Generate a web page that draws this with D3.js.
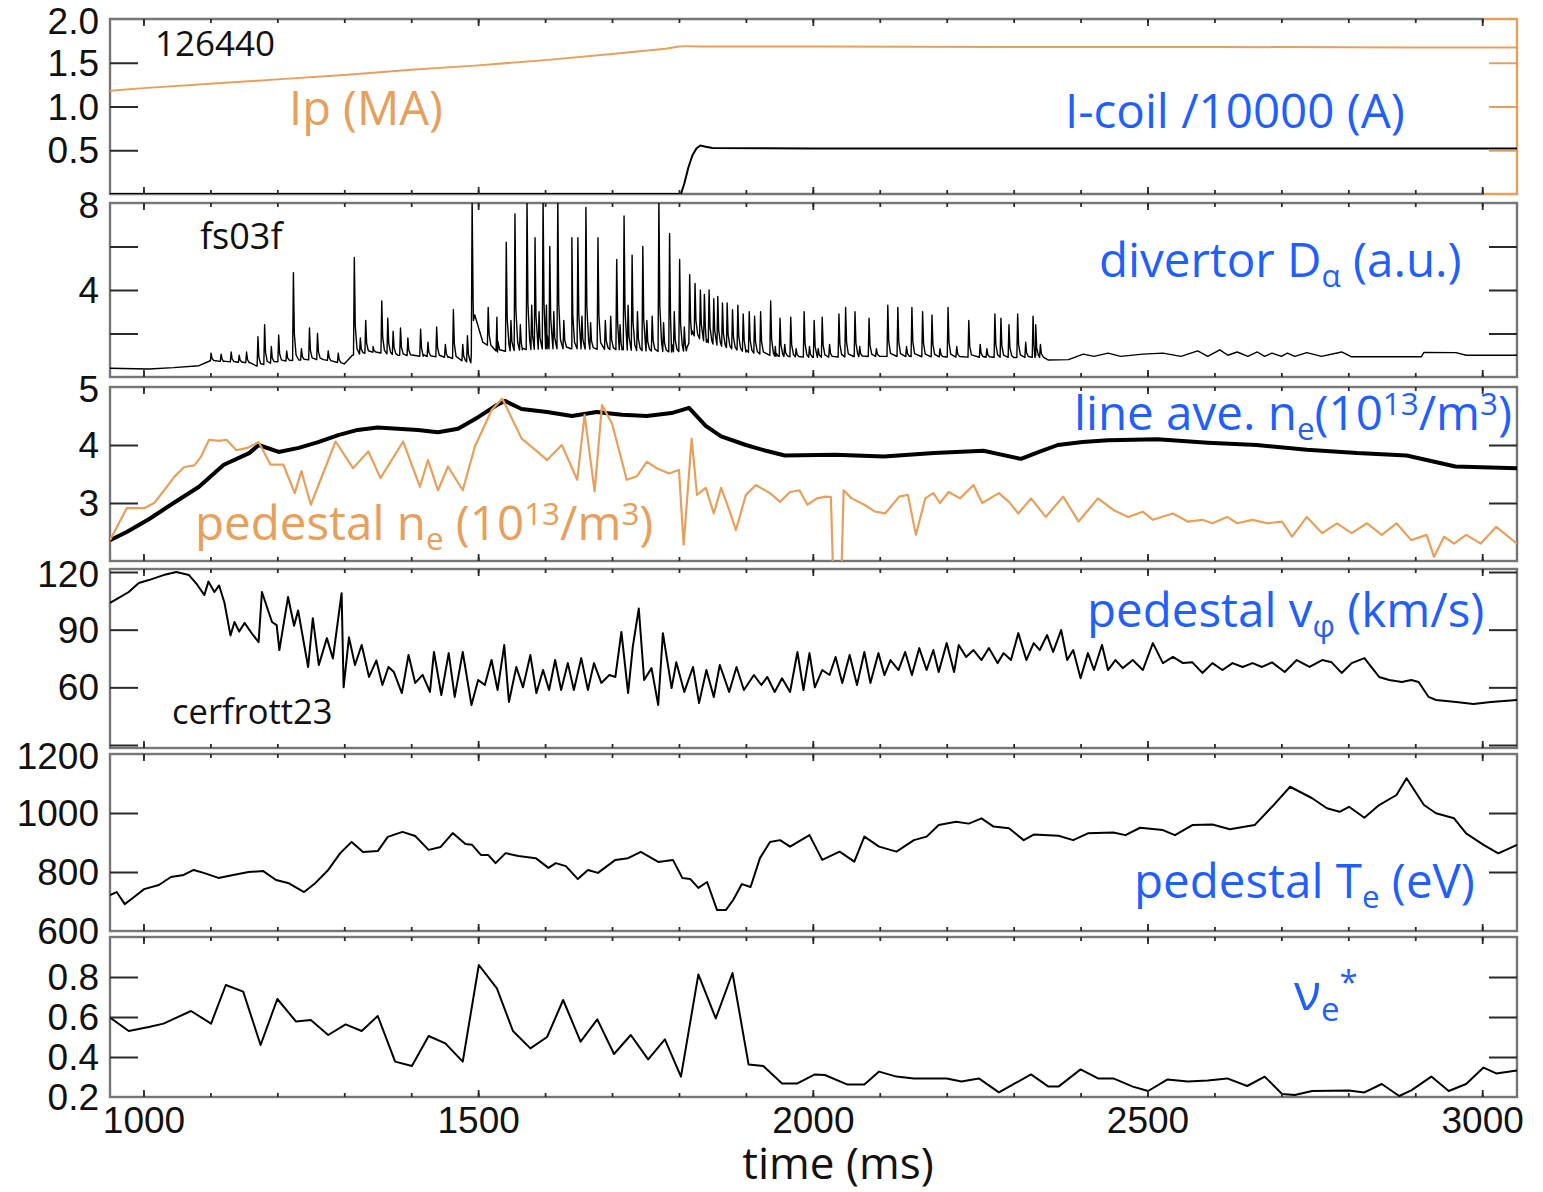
<!DOCTYPE html>
<html>
<head>
<meta charset="utf-8">
<script src="https://cdn.jsdelivr.net/npm/d3@7"></script>
<style>
  html, body { margin: 0; padding: 0; background: #fff; }
  svg { display: block; }
</style>
</head>
<body>
<svg id="chart" width="1543" height="1192"></svg>
<script>
// ---- time axis ----
const timeTickLabels = [1000, 1500, 2000, 2500, 3000];
const timeMinorTicks = d3.range(1000, 3001, 100);

// ---- panel tick marks / labels ----
const ipTicks = [0.5, 1.0, 1.5],        ipLabels = [0.5, 1.0, 1.5, 2.0];
const daTicks = [2, 4, 6],              daLabels = [4, 8];
const neTicks = [3, 4],                 neLabels = [3, 4, 5];
const vphiTicks = [30, 60, 90, 120],    vphiLabels = [60, 90, 120];
const teTicks = [800, 1000],            teLabels = [600, 800, 1000, 1200];
const nuTicks = [0.4, 0.6, 0.8],        nuLabels = [0.2, 0.4, 0.6, 0.8];

// ---- plasma current (MA) and I-coil/10000 (A) ----
const ipData = [[950,1.18],[1000,1.21],[1100,1.26],[1200,1.31],[1300,1.36],[1400,1.42],[1500,1.47],
  [1600,1.53],[1700,1.60],[1780,1.66],[1800,1.685],[1815,1.69],[1830,1.685],[2000,1.685],[2300,1.68],
  [2600,1.68],[2900,1.675],[3052,1.675]];
const icoilData = [[950,0],[1803,0],[1808,0.12],[1814,0.3],[1820,0.44],[1826,0.52],[1832,0.555],
  [1840,0.54],[1850,0.525],[2000,0.52],[3052,0.52]];

// ---- divertor D-alpha: slow level and ELM peaks ----
const dalphaBase = [[950,0.4],[1008,0.37],[1045,0.43],[1083,0.52],[1100,0.75],[1120,0.71],[1158,0.65],
  [1169,0.5],[1200,0.7],[1232,0.78],[1269,0.8],[1300,0.6],[1312,1.0],[1343,1.15],[1380,1.0],[1418,0.95],
  [1455,0.9],[1489,0.65],[1493,2.6],[1507,1.6],[1529,1.15],[1566,1.25],[1603,1.3],[1640,1.3],[1715,1.25],
  [1789,1.15],[1811,1.2],[1819,1.95],[1841,1.6],[1871,1.35],[1900,1.15],[1945,0.95],[2000,0.9],[2100,0.95],
  [2200,0.92],[2300,0.9],[2345,0.9],[2352,0.78],[2382,0.8],[2404,1.05],[2420,0.95],[2441,1.1],[2460,0.95],
  [2493,1.05],[2523,1.1],[2550,0.95],[2575,1.2],[2590,0.95],[2608,1.25],[2620,1.0],[2634,1.15],[2650,0.95],
  [2664,1.15],[2675,0.95],[2686,1.1],[2700,0.95],[2709,1.1],[2720,0.95],[2738,1.12],[2760,0.95],[2790,1.15],
  [2805,0.93],[2909,0.93],[2913,1.13],[2961,1.12],[2976,1.0],[3052,1.0]];
const dalphaSpikes = [[1101,1.1],[1116,1.05],[1131,1.15],[1143,1.0],[1154,1.15],[1171,1.85],[1181,2.4],
  [1191,1.4],[1202,1.93],[1214,1.2],[1224,4.8],[1236,1.3],[1248,2.25],[1260,2.0],[1276,1.2],[1291,1.1],
  [1315,5.5],[1324,1.8],[1332,2.6],[1343,1.4],[1356,3.5],[1365,2.7],[1373,2.1],[1384,2.25],[1395,1.8],
  [1414,2.2],[1425,1.6],[1438,2.3],[1451,1.5],[1463,3.1],[1477,1.5],[1484,1.9],[1491,8.2],
  [1515,3.2],[1528,2.75],[1542,6.2],[1549,2.6],[1555,7.5],[1563,2.4],[1573,8.2],[1580,3.3],[1585,6.4],
  [1591,3.0],[1597,8.2],[1602,3.3],[1607,6.0],[1613,3.0],[1619,8.2],[1628,2.6],[1640,6.4],[1649,6.4],
  [1655,2.8],[1661,7.8],[1668,2.5],[1679,6.4],[1690,2.6],[1698,2.8],[1707,5.4],[1712,2.4],[1718,7.4],
  [1724,3.3],[1730,5.6],[1738,3.0],[1746,6.0],[1752,2.6],[1760,2.8],[1770,8.2],[1777,2.5],[1786,6.6],
  [1793,3.0],[1801,5.4],[1808,2.3],[1816,4.7],[1824,4.3],[1832,4.0],[1838,3.8],[1845,4.0],[1852,3.6],
  [1858,3.7],[1865,3.4],[1872,3.4],[1880,3.1],[1888,3.3],[1896,2.9],[1905,3.0],[1913,2.8],[1922,3.0],
  [1937,3.5],[1944,1.4],[1951,2.7],[1958,1.5],[1967,2.75],[1975,1.3],[1987,3.0],[1995,1.4],[2002,2.6],
  [2008,1.3],[2014,2.75],[2025,1.5],[2039,2.9],[2049,3.2],[2063,3.0],[2070,1.4],[2084,2.7],[2095,1.3],
  [2112,3.3],[2127,3.2],[2140,1.4],[2148,3.2],[2164,3.0],[2178,2.85],[2190,1.3],[2202,3.2],[2215,1.4],
  [2233,2.6],[2250,1.5],[2260,1.3],[2272,2.9],[2281,2.7],[2293,2.4],[2306,2.9],[2318,1.6],[2329,2.8],
  [2333,2.4],[2340,1.5]];

// ---- line-averaged and pedestal density (1e13/m^3) ----
const neLineAve = [[950,2.36],[975,2.5],[1008,2.72],[1045,3.0],[1083,3.28],[1120,3.66],[1158,3.86],
  [1172,4.0],[1202,3.88],[1232,3.95],[1261,4.05],[1291,4.17],[1320,4.26],[1350,4.3],[1380,4.28],
  [1410,4.26],[1440,4.22],[1470,4.28],[1500,4.48],[1528,4.69],[1540,4.76],[1565,4.62],[1603,4.57],
  [1640,4.5],[1677,4.57],[1715,4.52],[1752,4.5],[1789,4.55],[1815,4.64],[1840,4.33],[1863,4.15],
  [1900,4.0],[1930,3.9],[1958,3.82],[2033,3.83],[2106,3.8],[2181,3.86],[2255,3.9],[2311,3.76],
  [2338,3.88],[2366,4.0],[2403,4.05],[2441,4.08],[2515,4.1],[2590,4.04],[2663,4.0],[2738,3.92],
  [2813,3.86],[2887,3.82],[2960,3.63],[3052,3.6]];
const nePed = [[950,2.36],[975,2.91],[1001,2.91],[1016,3.0],[1031,3.22],[1046,3.45],[1061,3.62],
  [1076,3.65],[1086,3.8],[1098,4.09],[1113,4.07],[1124,4.09],[1139,3.91],[1155,3.95],[1172,4.05],
  [1190,3.66],[1209,3.66],[1226,3.17],[1236,3.55],[1250,2.97],[1287,4.06],[1313,3.6],[1336,3.89],
  [1354,3.43],[1388,4.06],[1413,3.28],[1425,3.74],[1440,3.22],[1455,3.63],[1477,3.22],[1495,3.97],
  [1520,4.6],[1536,4.8],[1565,4.11],[1588,3.89],[1603,3.74],[1625,4.0],[1648,3.4],[1659,4.52],
  [1674,3.2],[1685,4.69],[1700,4.37],[1722,3.4],[1737,3.46],[1752,3.71],[1767,3.6],[1785,3.51],
  [1800,3.57],[1807,2.28],[1819,4.11],[1827,3.14],[1840,3.26],[1852,2.82],[1863,3.26],[1876,2.85],
  [1885,2.53],[1900,3.14],[1915,3.31],[1936,3.17],[1951,3.02],[1966,3.19],[1980,3.22],[1992,2.97],
  [2006,3.08],[2019,3.11],[2027,3.1],[2030,1.9],[2043,1.9],[2046,3.22],[2058,3.08],[2077,2.97],
  [2093,2.85],[2108,2.82],[2129,3.11],[2142,3.14],[2154,2.45],[2168,3.08],[2180,3.17],[2190,3.0],
  [2203,3.19],[2220,3.08],[2240,3.31],[2253,3.0],[2278,3.17],[2293,3.02],[2307,2.82],[2326,3.08],
  [2348,2.76],[2374,3.11],[2397,2.68],[2426,3.08],[2449,2.88],[2471,2.76],[2493,2.85],[2508,2.71],
  [2538,2.82],[2560,2.68],[2582,2.71],[2597,2.65],[2619,2.76],[2634,2.65],[2657,2.71],[2679,2.65],
  [2701,2.68],[2716,2.42],[2738,2.76],[2761,2.48],[2783,2.65],[2805,2.48],[2828,2.65],[2850,2.45],
  [2872,2.65],[2894,2.36],[2917,2.45],[2928,2.07],[2943,2.42],[2958,2.3],[2976,2.45],[2998,2.3],
  [3021,2.59],[3052,2.3]];

// ---- pedestal toroidal rotation (km/s) ----
const vphiData = [[950,103.9],[963,106.5],[978,109.6],[993,114.3],[1008,115.8],[1030,118.4],[1049,120],
  [1068,118.4],[1079,114],[1091,108],[1097,115],[1106,109.6],[1113,113],[1121,104],[1130,87],[1136,94],
  [1143,89],[1151,93.5],[1162,88],[1172,83.5],[1177,109.6],[1192,94],[1199,92.4],[1203,79.4],[1216,107],
  [1225,92],[1231,100],[1246,70.6],[1253,96],[1262,71.6],[1274,85.6],[1283,75],[1296,109],[1299,60],
  [1307,86],[1316,71.6],[1326,82],[1337,65.4],[1348,74],[1357,61.2],[1366,70.6],[1374,68],[1386,57],
  [1396,76.8],[1406,62.3],[1417,66.5],[1428,57.6],[1434,78.4],[1445,56],[1456,77.8],[1465,55],[1477,78.4],
  [1490,50.8],[1500,63.8],[1510,61.2],[1520,74.2],[1529,58.6],[1539,82],[1546,52.4],[1557,70.6],[1567,60],
  [1578,76.8],[1587,57],[1597,69],[1606,58.6],[1615,74.2],[1624,58.6],[1634,72.6],[1643,58.6],[1654,75.2],
  [1664,58.6],[1673,72.6],[1684,62.3],[1696,66.4],[1705,65.4],[1714,88.8],[1724,57],[1731,81],[1740,101],
  [1748,63.8],[1759,70],[1769,50.8],[1776,88.2],[1789,59.6],[1796,73],[1808,57.6],[1821,70.6],[1830,51.8],
  [1841,69],[1852,55],[1861,71.6],[1875,57.6],[1886,70.6],[1897,58.6],[1912,66.4],[1923,61.2],[1932,65.4],
  [1943,57.6],[1954,64.7],[1966,57.6],[1977,78.4],[1986,58.6],[1995,77.8],[2003,60],[2014,69],[2025,66.4],
  [2034,75.8],[2044,62.3],[2055,76.8],[2066,61.2],[2077,78.4],[2086,62.3],[2098,77.8],[2107,66.4],
  [2116,74.2],[2128,69],[2138,78.4],[2148,66.4],[2159,80.4],[2170,69],[2180,79.4],[2188,68],[2200,83],
  [2211,68],[2218,82],[2229,75.8],[2240,79.4],[2252,74.2],[2263,80.4],[2276,72.6],[2285,77.8],[2296,74.2],
  [2307,88.2],[2319,74.2],[2330,83],[2339,79.4],[2350,87.2],[2359,78.4],[2371,89.8],[2380,74.2],
  [2389,79.4],[2400,64.7],[2411,77.8],[2420,69],[2432,82],[2441,69],[2452,74.2],[2463,70],[2478,74.2],
  [2493,69],[2508,83],[2523,72.6],[2538,75.8],[2553,72.6],[2567,73],[2582,67.5],[2597,72.6],[2612,69],
  [2627,72.6],[2642,70.6],[2657,72.6],[2671,70.6],[2686,73],[2705,68],[2723,74.2],[2742,70.6],[2761,74.2],
  [2775,73],[2790,67.5],[2805,72.6],[2824,75.2],[2846,65.4],[2861,63.8],[2880,62.8],[2894,63.8],
  [2905,62.8],[2920,55],[2931,53.4],[2961,52.4],[2987,51.3],[3013,52.4],[3052,53.4]];

// ---- pedestal electron temperature (eV) ----
const teData = [[950,722],[960,732],[972,691],[986,715],[1001,742],[1023,756],[1041,783],[1060,790],
  [1075,807],[1090,797],[1112,780],[1134,790],[1157,800],[1179,803],[1198,773],[1216,763],[1240,732],
  [1257,763],[1276,807],[1294,864],[1311,902],[1328,868],[1350,871],[1365,919],[1387,936],[1406,922],
  [1426,875],[1444,885],[1462,932],[1481,895],[1491,892],[1504,858],[1515,858],[1526,830],[1541,864],
  [1560,854],[1586,847],[1605,814],[1616,830],[1631,820],[1649,776],[1664,807],[1679,797],[1705,841],
  [1724,847],[1743,868],[1769,834],[1791,841],[1805,780],[1817,776],[1829,746],[1842,766],[1857,671],
  [1870,671],[1881,705],[1894,759],[1907,749],[1921,847],[1936,902],[1951,908],[1966,886],[1995,925],
  [2014,841],[2040,869],[2062,835],[2077,920],[2099,886],[2125,869],[2151,908],[2170,920],[2188,959],
  [2214,970],[2233,964],[2252,982],[2270,954],[2293,948],[2315,908],[2330,927],[2367,923],[2389,908],
  [2411,931],[2449,934],[2467,925],[2489,950],[2523,942],[2541,925],[2567,959],[2597,961],[2623,945],
  [2660,959],[2686,1021],[2713,1089],[2746,1050],[2768,1016],[2787,1004],[2801,1021],[2824,984],
  [2846,1027],[2872,1061],[2887,1118],[2913,1027],[2931,999],[2958,982],[2976,931],[3002,892],
  [3024,863],[3052,892]];

// ---- pedestal electron collisionality ----
const nuData = [[950,0.597],[978,0.53],[1008,0.55],[1030,0.567],[1071,0.63],[1101,0.567],[1123,0.76],
  [1149,0.727],[1175,0.46],[1200,0.69],[1228,0.577],[1250,0.585],[1276,0.51],[1302,0.563],[1326,0.53],
  [1350,0.605],[1376,0.377],[1401,0.355],[1426,0.505],[1451,0.468],[1477,0.377],[1501,0.86],[1528,0.743],
  [1552,0.53],[1578,0.443],[1603,0.5],[1627,0.685],[1653,0.477],[1678,0.588],[1703,0.415],[1728,0.51],
  [1754,0.388],[1779,0.488],[1803,0.302],[1829,0.813],[1855,0.593],[1880,0.82],[1904,0.363],[1926,0.355],
  [1954,0.268],[1977,0.268],[2003,0.313],[2018,0.31],[2051,0.263],[2077,0.263],[2099,0.327],[2125,0.302],
  [2151,0.293],[2200,0.293],[2222,0.277],[2248,0.293],[2278,0.223],[2326,0.313],[2352,0.252],[2367,0.252],
  [2400,0.338],[2426,0.293],[2449,0.293],[2478,0.252],[2501,0.23],[2530,0.288],[2560,0.277],[2590,0.282],
  [2619,0.293],[2649,0.255],[2675,0.302],[2701,0.215],[2720,0.21],[2746,0.23],[2801,0.233],[2824,0.223],
  [2850,0.265],[2876,0.205],[2894,0.233],[2924,0.302],[2950,0.23],[2976,0.265],[3002,0.347],[3021,0.318],
  [3052,0.333]];

// ---- styles ----
const ORANGE = '#e6a05c';
const BLUE = '#1f5fff';
const FRAME = '#767676';
const TICK = '#2a2a2a';
const NUM_FONT = "'Liberation Sans', Arial, Helvetica, sans-serif";
const TXT_FONT = "'Open Sans', 'Noto Sans', sans-serif";
const NUM_SIZE = 37;
const LABEL_SIZE = 47.5;

const svg = d3.select('#chart');
svg.append('rect').attr('width', 1543).attr('height', 1192).attr('fill', '#fff');

const X0 = 110, X1 = 1517, XEND_BLACK = 1484;
const x = d3.scaleLinear().domain([950, 3052]).range([X0, X1]);

// Dα trace: slow level with sharp ELM bursts laid on top
const baseInterp = t => {
  const i = d3.bisector(d => d[0]).right(dalphaBase, t);
  if (i <= 0) return dalphaBase[0][1];
  if (i >= dalphaBase.length) return dalphaBase[dalphaBase.length - 1][1];
  const a = dalphaBase[i - 1], b = dalphaBase[i];
  return a[1] + (b[1] - a[1]) * (t - a[0]) / (b[0] - a[0]);
};
const dalphaTrace = dalphaBase.slice();
dalphaSpikes.forEach(([t, p]) => {
  const b = baseInterp(t);
  dalphaTrace.push([t - 1.2, baseInterp(t - 1.2)], [t, p],
    [t + 1.4, b + 0.3 * (p - b)], [t + 4, baseInterp(t + 4) + 0.06 * (p - b)]);
});
dalphaTrace.sort((a, b) => a[0] - b[0]);

const f1 = d3.format('.1f'), f0 = d3.format('d');

const panels = [
  { key: 'ip', y0: 19, y1: 194, dom: [0, 2], ticks: ipTicks, labels: ipLabels, fmt: f1,
    series: [{ data: icoilData, color: '#000', w: 2 }, { data: ipData, color: ORANGE, w: 2 }] },
  { key: 'da', y0: 203, y1: 377, dom: [0, 8], ticks: daTicks, labels: daLabels, fmt: f0,
    series: [{ data: dalphaTrace, color: '#000', w: 1.4 }] },
  { key: 'ne', y0: 387, y1: 561, dom: [2, 5], ticks: neTicks, labels: neLabels, fmt: f0,
    series: [{ data: neLineAve, color: '#000', w: 4 }, { data: nePed, color: ORANGE, w: 2.2 }] },
  { key: 'vphi', y0: 572, y1: 745, dom: [30, 120], ticks: vphiTicks, labels: vphiLabels, fmt: f0,
    frame: [569, 748], series: [{ data: vphiData, color: '#000', w: 2 }] },
  { key: 'te', y0: 754, y1: 931, dom: [600, 1200], ticks: teTicks, labels: teLabels, fmt: f0,
    series: [{ data: teData, color: '#000', w: 2 }] },
  { key: 'nu', y0: 937, y1: 1097, dom: [0.2, 1.0], ticks: nuTicks, labels: nuLabels, fmt: f1,
    series: [{ data: nuData, color: '#000', w: 2 }] },
];

const defs = svg.append('defs');

panels.forEach(p => {
  const y = d3.scaleLinear().domain(p.dom).range([p.y1, p.y0]);
  const fTop = p.frame ? p.frame[0] : p.y0;
  const fBot = p.frame ? p.frame[1] : p.y1;
  const g = svg.append('g').attr('class', 'panel-' + p.key);

  defs.append('clipPath').attr('id', 'clip-' + p.key)
    .append('rect').attr('x', X0).attr('y', fTop).attr('width', X1 - X0).attr('height', fBot - fTop);

  // frame
  if (p.key === 'ip') {
    const fr = g.append('g').attr('fill', 'none').attr('stroke-width', 2.4);
    fr.append('path').attr('stroke', FRAME)
      .attr('d', `M${XEND_BLACK},${fTop}H${X0}V${fBot}H${XEND_BLACK}`);
    fr.append('path').attr('stroke', ORANGE)
      .attr('d', `M${XEND_BLACK},${fTop}H${X1}V${fBot}H${XEND_BLACK}`);
  } else {
    g.append('rect').attr('x', X0).attr('y', fTop).attr('width', X1 - X0).attr('height', fBot - fTop)
      .attr('fill', 'none').attr('stroke', FRAME).attr('stroke-width', 2.4);
  }

  // data
  const line = d3.line().x(d => x(d[0])).y(d => y(d[1]));
  const lg = g.append('g').attr('clip-path', `url(#clip-${p.key})`);
  p.series.forEach(s => {
    lg.append('path').datum(s.data).attr('d', line)
      .attr('fill', 'none').attr('stroke', s.color).attr('stroke-width', s.w)
      .attr('stroke-linejoin', 'round');
  });

  // time ticks on top and bottom edges, pointing inward
  const tickAxis = (axis, yPos, vals, len, color) => {
    const a = g.append('g').attr('transform', `translate(0,${yPos})`)
      .call(axis(x).tickValues(vals).tickSize(len).tickFormat(''));
    a.select('.domain').remove();
    a.selectAll('line').attr('stroke', color).attr('stroke-width', 1.8);
  };
  tickAxis(d3.axisBottom, fTop, timeMinorTicks, 4, TICK);
  tickAxis(d3.axisTop, fBot, timeMinorTicks, 4, TICK);
  tickAxis(d3.axisBottom, fTop, timeTickLabels, 7, TICK);
  tickAxis(d3.axisTop, fBot, timeTickLabels, 7, TICK);

  // value ticks on left and right edges
  const lt = g.append('g').attr('transform', `translate(${X0},0)`)
    .call(d3.axisRight(y).tickValues(p.ticks).tickSize(28).tickFormat(''));
  lt.select('.domain').remove();
  lt.selectAll('line').attr('stroke', TICK).attr('stroke-width', 2);
  const rt = g.append('g').attr('transform', `translate(${X1},0)`)
    .call(d3.axisLeft(y).tickValues(p.ticks).tickSize(28).tickFormat(''));
  rt.select('.domain').remove();
  rt.selectAll('line').attr('stroke', p.key === 'ip' ? ORANGE : TICK).attr('stroke-width', 2);

  // value labels
  const la = g.append('g').attr('transform', `translate(${X0},0)`)
    .call(d3.axisLeft(y).tickValues(p.labels).tickSize(0).tickPadding(11).tickFormat(p.fmt));
  la.select('.domain').remove();
  la.selectAll('text')
    .attr('font-family', NUM_FONT).attr('font-size', NUM_SIZE).attr('fill', '#111')
    .attr('dy', d => d === p.dom[1] ? '0.38em' : '0.34em');
});

// time labels under the last panel
const last = panels[panels.length - 1];
const xa = svg.append('g').attr('transform', `translate(0,${last.y1})`)
  .call(d3.axisBottom(x).tickValues(timeTickLabels).tickSize(0).tickPadding(10).tickFormat(f0));
xa.select('.domain').remove();
xa.selectAll('text').attr('font-family', NUM_FONT).attr('font-size', NUM_SIZE).attr('fill', '#111');

// text with sub/superscripts
function richText(xp, yp, parts, size, color, anchor) {
  const t = svg.append('text').attr('x', xp).attr('y', yp)
    .attr('font-family', TXT_FONT).attr('font-size', size).attr('fill', color)
    .attr('text-anchor', anchor || 'start');
  let shift = 0;
  parts.forEach(([s, kind]) => {
    let target = 0, fs = size;
    if (kind === 'sub') { target = size * 0.22; fs = size * 0.66; }
    if (kind === 'sup') { target = -size * 0.32; fs = size * 0.66; }
    t.append('tspan').attr('font-size', fs).attr('dy', target - shift).text(s);
    shift = target;
  });
  return t;
}

// panel annotations
richText(155, 56, [['126440']], 35, '#111');
richText(289, 125, [['Ip (MA)']], 47, ORANGE);
richText(1065, 128, [['I-coil /10000 (A)']], LABEL_SIZE, BLUE);

richText(200, 249, [['fs03f']], 36, '#111');
richText(1099, 277, [['divertor D'], ['\u03b1', 'sub'], [' (a.u.)']], LABEL_SIZE, BLUE);

richText(1074, 430, [['line ave. n'], ['e', 'sub'], ['(10'], ['13', 'sup'], ['/m'], ['3', 'sup'], [')']], LABEL_SIZE, BLUE);
richText(195, 540, [['pedestal n'], ['e', 'sub'], [' (10'], ['13', 'sup'], ['/m'], ['3', 'sup'], [')']], LABEL_SIZE, ORANGE);

richText(1087, 627, [['pedestal v'], ['\u03c6', 'sub'], [' (km/s)']], LABEL_SIZE, BLUE);
richText(172, 724, [['cerfrott23']], 34.5, '#111');

richText(1134, 898, [['pedestal T'], ['e', 'sub'], [' (eV)']], LABEL_SIZE, BLUE);

richText(1294, 1010, [['\u03bd'], ['e', 'sub'], ['*', 'sup']], 50, BLUE);

richText(838, 1179, [['time (ms)']], 44, '#111', 'middle');
</script>
</body>
</html>
